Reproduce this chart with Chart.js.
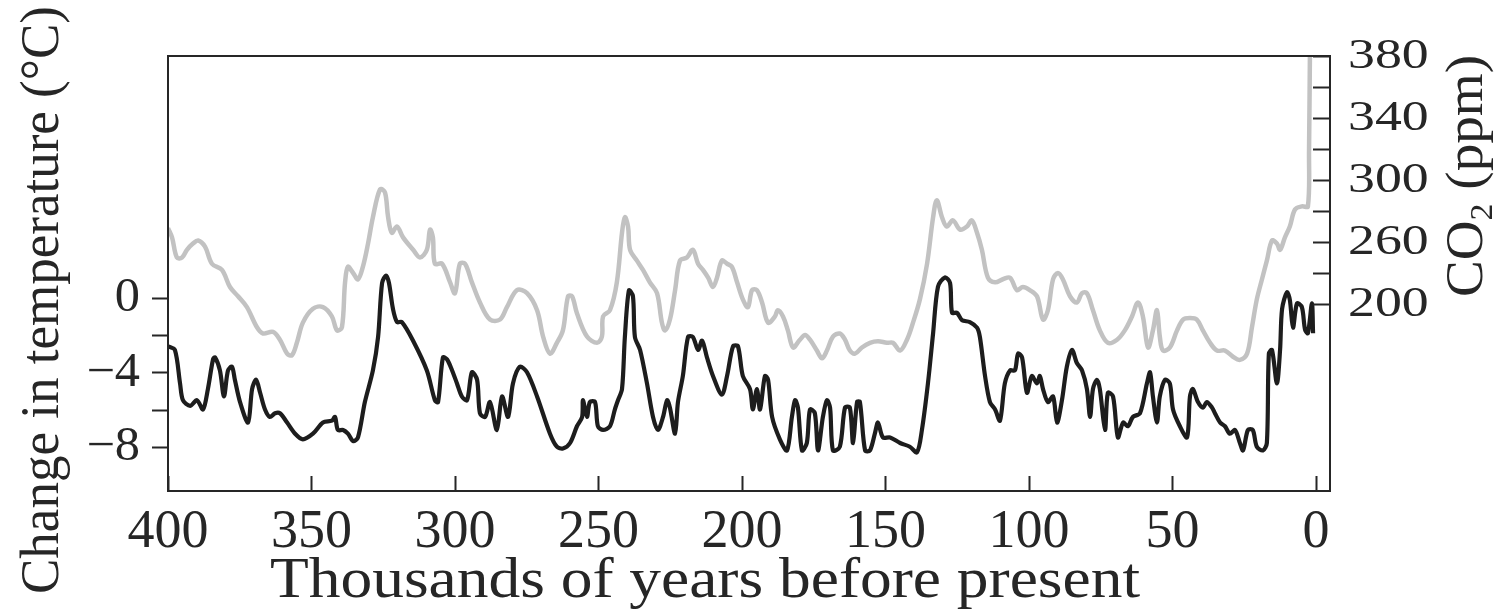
<!DOCTYPE html>
<html>
<head>
<meta charset="utf-8">
<title>Temperature and CO2, last 400 000 years</title>
<script src="https://cdn.jsdelivr.net/npm/chart.js@4.4.1/dist/chart.umd.min.js"></script>
<style>
  html, body { margin: 0; padding: 0; background: #fff; }
  #wrap { position: relative; width: 1501px; height: 610px; }
</style>
</head>
<body>
<div id="wrap"><canvas id="grafico"></canvas></div>
<script>
// edad en miles de años antes del presente
const edadTemp = [
  400.0, 397.6, 395.8, 394.8, 392.3, 389.9, 387.8, 386.1, 384.3, 383.6, 381.9, 380.5, 379.1, 377.7,
  376.7, 374.9, 372.1, 370.7, 369.3, 367.9, 366.2, 364.5, 362.7, 361.0, 358.5, 355.7, 353.0, 349.5,
  346.0, 342.9, 341.8, 340.8, 339.0, 337.3, 335.5, 333.8, 331.4, 328.6, 326.8, 325.4, 324.0, 323.0,
  321.6, 320.2, 318.5, 314.6, 309.8, 307.0, 305.9, 304.2, 302.8, 301.0, 299.3, 297.6, 295.8, 294.1,
  292.3, 291.3, 289.5, 287.8, 285.4, 283.6, 281.5, 279.8, 277.4, 274.9, 271.4, 266.9, 264.5, 262.4,
  259.9, 257.5, 255.7, 255.4, 254.0, 253.0, 251.2, 250.2, 248.4, 246.0, 244.3, 243.2, 241.8, 240.8,
  239.4, 238.0, 237.3, 235.5, 233.1, 231.0, 229.3, 227.5, 226.1, 225.1, 223.3, 222.3, 220.6, 218.8,
  217.1, 215.3, 213.9, 212.2, 210.1, 207.0, 205.2, 203.1, 201.4, 199.7, 197.2, 196.2, 194.8, 193.7,
  192.0, 190.9, 189.5, 186.8, 184.3, 182.6, 181.5, 180.5, 179.1, 177.4, 176.3, 174.6, 173.5, 171.8,
  170.4, 169.3, 168.3, 165.9, 164.1, 162.4, 161.3, 159.9, 158.9, 157.1, 155.4, 153.7, 152.6, 150.9,
  148.4, 144.9, 141.5, 139.0, 137.3, 135.2, 133.4, 131.7, 129.3, 127.5, 126.8, 125.1, 123.3, 120.6,
  118.1, 117.1, 115.3, 113.6, 111.8, 110.1, 108.4, 106.6, 104.9, 103.8, 102.4, 100.7, 99.0, 97.2,
  96.2, 95.1, 93.4, 91.6, 90.2, 88.5, 86.8, 85.0, 83.3, 81.5, 79.8, 78.7, 77.7, 76.3, 75.3, 73.5,
  72.5, 70.7, 69.0, 67.2, 65.5, 63.8, 61.3, 58.9, 57.8, 56.8, 55.4, 54.4, 52.6, 50.9, 49.8, 47.4,
  44.9, 43.9, 42.9, 41.1, 39.4, 38.0, 36.2, 35.2, 33.4, 31.7, 30.0, 28.2, 26.5, 25.4, 23.7, 22.0,
  20.6, 18.5, 17.1, 16.4, 15.3, 13.6, 12.5, 11.8, 10.1, 9.1, 8.0, 6.6, 4.9, 3.8, 2.8, 1.4, 1.0
];
// cambio de temperatura (°C)
const valorTemp = [
  -2.6, -2.8, -4.6, -5.5, -5.8, -5.5, -6.0, -4.9, -3.3, -3.2, -3.9, -5.3, -3.9, -3.7,
  -4.4, -5.6, -6.7, -4.9, -4.4, -5.1, -6.0, -6.4, -6.2, -6.2, -6.7, -7.3, -7.6, -7.3,
  -6.7, -6.6, -6.4, -7.1, -7.1, -7.3, -7.7, -7.5, -5.6, -3.9, -2.1, 0.8, 1.2, 0.8,
  -0.6, -1.3, -1.3, -2.3, -3.9, -5.5, -5.6, -3.2, -3.3, -3.9, -4.6, -5.3, -5.5, -4.0,
  -4.4, -6.2, -6.4, -5.6, -7.1, -5.3, -6.4, -4.6, -3.7, -4.0, -5.3, -7.3, -8.0, -8.1,
  -7.8, -6.9, -6.4, -5.5, -6.4, -5.6, -5.6, -6.9, -7.1, -6.9, -6.0, -5.5, -4.9, -2.1,
  0.4, 0.1, -2.1, -2.8, -4.6, -6.4, -7.1, -6.4, -5.5, -5.9, -7.3, -5.6, -4.2, -2.1,
  -2.1, -2.8, -2.3, -3.2, -4.2, -5.2, -4.2, -2.6, -2.6, -4.2, -4.9, -6.0, -4.9, -6.0,
  -4.2, -4.4, -6.4, -7.6, -8.2, -6.4, -5.5, -5.9, -8.2, -7.8, -6.0, -6.2, -8.2, -6.4,
  -5.5, -5.9, -8.2, -8.0, -5.9, -5.9, -7.8, -5.6, -5.6, -8.2, -8.2, -7.3, -6.7, -7.5,
  -7.5, -7.8, -8.0, -8.3, -7.1, -4.6, -1.9, 0.6, 1.1, 0.8, -0.8, -0.8, -1.2, -1.3,
  -1.6, -2.1, -4.2, -5.6, -6.0, -6.6, -4.6, -3.9, -3.9, -3.0, -3.2, -5.1, -4.2, -4.6,
  -4.2, -4.9, -5.6, -5.3, -6.7, -5.5, -3.7, -2.8, -3.5, -3.9, -4.9, -6.4, -4.9, -4.4, -4.9, -7.1,
  -5.1, -5.3, -7.5, -6.7, -6.9, -6.4, -6.2, -4.6, -4.0, -5.3, -6.7, -5.3, -4.4, -4.6, -6.0, -6.9,
  -7.5, -5.3, -4.9, -5.6, -5.9, -5.6, -5.9, -6.2, -6.7, -6.9, -7.3, -7.1, -7.8, -8.2, -7.1, -7.1,
  -8.0, -8.2, -7.8, -3.0, -2.8, -4.6, -2.8, -0.6, 0.3, -0.1, -1.6, -0.3, -0.5, -1.7, -1.9, -0.3, -1.9
];

const edadCO2 = [
  400.0, 398.6, 396.9, 395.1, 393.4, 391.3, 389.5, 387.1, 384.7, 381.2, 378.4, 375.6, 372.5, 369.0,
  366.9, 363.4, 361.0, 358.5, 356.8, 355.1, 353.0, 349.5, 346.0, 342.9, 341.1, 339.4, 338.3, 337.3,
  335.5, 333.8, 332.1, 330.3, 328.6, 326.1, 324.4, 323.3, 322.0, 320.2, 318.1, 314.6, 312.2, 309.8,
  308.7, 307.7, 307.0, 304.5, 301.7, 300.0, 298.3, 296.5, 294.1, 291.3, 287.8, 284.3, 281.9, 278.4,
  274.9, 271.4, 269.3, 266.9, 264.5, 262.4, 260.6, 259.2, 257.5, 254.0, 250.5, 248.8, 248.4, 246.0,
  243.6, 241.8, 240.8, 239.7, 239.0, 236.6, 234.5, 232.1, 229.6, 227.9, 226.8, 225.1, 223.3, 221.6,
  219.2, 217.1, 215.3, 213.6, 211.8, 210.1, 208.7, 207.0, 205.2, 203.5, 201.7, 199.7, 197.9, 196.5,
  194.8, 193.0, 190.9, 188.5, 187.5, 185.7, 184.0, 182.2, 179.8, 178.0, 176.3, 173.9, 172.1, 170.4,
  168.3, 165.9, 164.1, 162.4, 160.6, 158.2, 155.4, 152.6, 149.5, 147.4, 144.9, 142.5, 140.4, 138.0,
  135.5, 133.4, 132.1, 130.3, 128.6, 126.5, 124.0, 121.6, 119.9, 118.1, 116.4, 114.3, 111.8, 109.1,
  106.6, 104.2, 102.1, 99.7, 97.2, 95.1, 93.4, 91.6, 89.9, 88.2, 85.7, 83.3, 81.5, 79.8, 77.7, 75.3,
  72.5, 69.3, 66.6, 64.1, 62.0, 60.3, 58.5, 56.8, 55.4, 54.4, 53.3, 50.9, 48.4, 46.3, 43.9, 41.5,
  39.4, 36.9, 34.5, 31.7, 28.9, 26.5, 24.0, 22.3, 20.6, 18.8, 17.1, 15.3, 13.6, 12.5, 10.8, 9.1,
  7.3, 4.9, 2.8, 2.4, 2.1, 2.0
];
// CO2 (ppm)
const valorCO2 = [
  269, 263, 250, 250, 255, 259, 261, 257, 246, 242, 231, 225, 218, 205,
  201, 202, 197, 188, 187, 195, 208, 217, 218, 212, 203, 205, 234, 244,
  240, 236, 244, 259, 276, 294, 292, 276, 266, 270, 263, 255, 250, 255,
  268, 263, 246, 246, 234, 227, 246, 246, 234, 221, 210, 210, 218, 229,
  227, 216, 199, 188, 195, 203, 225, 225, 214, 199, 195, 199, 212, 216,
  234, 266, 276, 270, 255, 248, 242, 234, 227, 208, 203, 210, 229, 248,
  250, 255, 246, 242, 237, 231, 237, 248, 246, 244, 234, 223, 218, 229,
  229, 221, 208, 212, 216, 212, 203, 192, 197, 200, 197, 190, 185, 190,
  199, 201, 197, 190, 188, 192, 195, 196, 195, 195, 190, 197, 208, 223,
  246, 276, 287, 276, 270, 274, 268, 270, 274, 266, 255, 237, 234, 236,
  237, 229, 231, 229, 225, 210, 216, 236, 240, 236, 225, 221, 227, 227, 216, 203,
  195, 197, 203, 212, 221, 212, 192, 203, 216, 199, 190, 192, 203, 210, 211, 210,
  203, 195, 190, 190, 186, 184, 188, 205, 223, 236, 248, 261, 259, 255, 263, 270,
  281, 283, 283, 319, 380, 386
];

const ticksX = [400, 350, 300, 250, 200, 150, 100, 50, 0];
const ticksTemp = [0, -2, -4, -6, -8];
const etiquetasTemp = { '0': '0', '-4': '\u22124', '-8': '\u22128' };
const ticksCO2 = [380, 360, 340, 320, 300, 280, 260, 240, 220];
const etiquetasCO2 = { '380': '380', '340': '340', '300': '300', '260': '260', '220': '200' };

const puntos = (xs, ys) => xs.map((x, i) => ({ x: x, y: ys[i] }));
const serieTemp = puntos(edadTemp, valorTemp);
const serieCO2 = puntos(edadCO2, valorCO2);

const FUENTE = '"Liberation Serif", "Times New Roman", serif';
const TINTA = '#262626';

// texto con estiramiento horizontal opcional (y rotado si hace falta)
const texto = (ctx, t, x, y, o) => {
  ctx.save();
  ctx.translate(x, y);
  if (o.rot) ctx.rotate(-Math.PI / 2);
  ctx.font = `${o.size}px ${FUENTE}`;
  let sx = o.sx || 1;
  if (o.ancho) sx = o.ancho / ctx.measureText(t).width;
  ctx.scale(sx, 1);
  ctx.fillStyle = TINTA;
  ctx.textAlign = o.align || 'center';
  ctx.textBaseline = o.base || 'alphabetic';
  ctx.fillText(t, 0, 0);
  ctx.restore();
};

const marco = {
  id: 'marco',
  afterDraw(chart) {
    const ctx = chart.ctx;
    const a = chart.chartArea;
    const sx = chart.scales.x, sy = chart.scales.y, sy1 = chart.scales.y1;
    ctx.save();
    ctx.strokeStyle = TINTA;
    ctx.lineWidth = 2;
    ctx.strokeRect(a.left, a.top, a.right - a.left, a.bottom - a.top);

    ctx.beginPath();
    ticksX.forEach((v) => {
      const px = Math.round(sx.getPixelForValue(v)) + 0.5;
      ctx.moveTo(px, a.bottom);
      ctx.lineTo(px, a.bottom - 15);
    });
    ticksTemp.forEach((v) => {
      const py = Math.round(sy.getPixelForValue(v)) + 0.5;
      ctx.moveTo(a.left - 16, py);
      ctx.lineTo(a.left, py);
    });
    ticksCO2.forEach((v) => {
      const py = Math.round(sy1.getPixelForValue(v)) + 0.5;
      ctx.moveTo(a.right - 17, py);
      ctx.lineTo(a.right, py);
    });
    ctx.stroke();
    ctx.restore();

    ticksX.forEach((v) => {
      texto(ctx, String(v), sx.getPixelForValue(v), a.bottom + 56, { size: 54 });
    });
    ticksTemp.forEach((v) => {
      const t = etiquetasTemp[String(v)];
      if (t) texto(ctx, t, a.left - 28, sy.getPixelForValue(v) + 1, { size: 48, sx: 1.05, align: 'right', base: 'middle' });
    });
    ticksCO2.forEach((v) => {
      const t = etiquetasCO2[String(v)];
      if (t) texto(ctx, t, a.right + 18, sy1.getPixelForValue(v) + 1, { size: 42, sx: 1.28, align: 'left', base: 'middle' });
    });

    texto(ctx, 'Thousands of years before present', 705, 597, { size: 56, ancho: 870 });
    texto(ctx, 'Change in temperature (\u00B0C)', 58, 300, { size: 55, rot: true, ancho: 588 });

    // CO2 (ppm) con subíndice
    ctx.save();
    ctx.translate(1482, 176);
    ctx.rotate(-Math.PI / 2);
    const g = 52, p = Math.round(g * 0.62);
    ctx.font = `${g}px ${FUENTE}`;
    const wCO = ctx.measureText('CO').width;
    const wResto = ctx.measureText(' (ppm)').width;
    ctx.font = `${p}px ${FUENTE}`;
    const w2 = ctx.measureText('2').width;
    const total = wCO + w2 + wResto;
    ctx.scale(242 / total, 1);
    ctx.fillStyle = TINTA;
    ctx.textAlign = 'left';
    ctx.textBaseline = 'alphabetic';
    let x0 = -total / 2;
    ctx.font = `${g}px ${FUENTE}`;
    ctx.fillText('CO', x0, 0);
    x0 += wCO;
    ctx.font = `${p}px ${FUENTE}`;
    ctx.fillText('2', x0, g * 0.2);
    x0 += w2;
    ctx.font = `${g}px ${FUENTE}`;
    ctx.fillText(' (ppm)', x0, 0);
    ctx.restore();
  }
};

new Chart(document.getElementById('grafico'), {
  type: 'line',
  data: {
    datasets: [
      {
        label: 'CO2',
        data: serieCO2,
        yAxisID: 'y1',
        borderColor: '#c2c2c2',
        borderWidth: 4.5,
        pointRadius: 0,
        tension: 0.35
      },
      {
        label: 'CO2 punteado',
        data: serieCO2,
        yAxisID: 'y1',
        borderColor: '#858585',
        borderWidth: 2,
        borderDash: [1.5, 2],
        pointRadius: 0,
        tension: 0.35
      },
      {
        label: 'Temperatura',
        data: serieTemp,
        yAxisID: 'y',
        borderColor: '#1d1d1d',
        borderWidth: 4.2,
        pointRadius: 0,
        tension: 0.3
      }
    ]
  },
  options: {
    responsive: true,
    maintainAspectRatio: false,
    animation: false,
    layout: { padding: { left: 168, right: 171, top: 56, bottom: 119 } },
    plugins: { legend: { display: false }, tooltip: { enabled: false } },
    scales: {
      x: { type: 'linear', reverse: true, min: -4.9, max: 400, display: false },
      y: { min: -10.38, max: 13.0, display: false },
      y1: { position: 'right', min: 99.4, max: 380, display: false }
    }
  },
  plugins: [marco]
});
</script>
</body>
</html>
